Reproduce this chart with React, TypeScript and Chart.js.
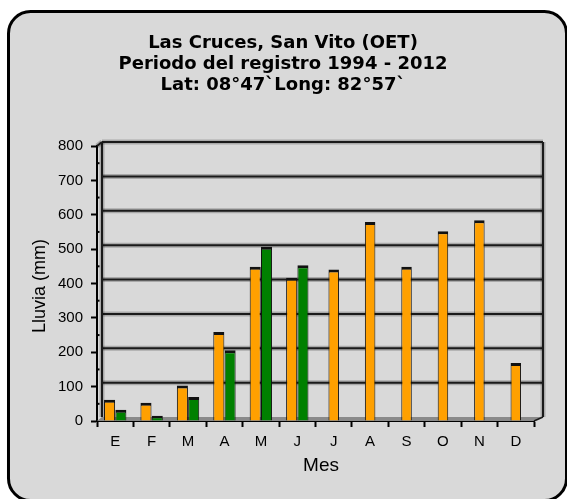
import React, { useEffect, useRef } from "react";
import { Chart, registerables } from "chart.js";

Chart.register(...registerables);

const months = ["E", "F", "M", "A", "M", "J", "J", "A", "S", "O", "N", "D"];
const rainA = [62, 53, 103, 259, 449, 417, 441, 579, 449, 552, 584, 169];
const rainB = [33, 15, 70, 206, 507, 453, null, null, null, null, null, null];
const yTicks = [0, 100, 200, 300, 400, 500, 600, 700, 800];
const titleLines = [
  "Las Cruces, San Vito (OET)",
  "Periodo del registro 1994 - 2012",
  "Lat: 08°47`Long: 82°57`",
];
const yTitle = "Lluvia (mm)";
const xTitle = "Mes";

const ORANGE = "#ffa000";
const GREEN = "#008000";
const SANS = "'Liberation Sans', Arial, sans-serif";

const framePlugin = {
  id: "frame3d",
  beforeDraw(chart: any) {
    const ctx = chart.ctx;
    ctx.save();
    ctx.fillStyle = "#ffffff";
    ctx.fillRect(0, 0, chart.width, chart.height);
    ctx.beginPath();
    ctx.roundRect(8.5, 11.5, 558, 489, 22);
    ctx.fillStyle = "#d9d9d9";
    ctx.fill();
    ctx.lineWidth = 3;
    ctx.strokeStyle = "#000";
    ctx.stroke();
    ctx.restore();
  },
  beforeDatasetsDraw(chart: any) {
    const ctx = chart.ctx;
    const a = chart.chartArea;
    const ys = chart.scales.y;
    const L = a.left, R = a.right, T = a.top, B = a.bottom;
    const bl = L + 5, br = R + 9, bt = T - 4, bb = B - 4;
    ctx.save();
    // floor
    ctx.beginPath();
    ctx.moveTo(L, B);
    ctx.lineTo(R, B);
    ctx.lineTo(br, bb);
    ctx.lineTo(bl, bb);
    ctx.closePath();
    ctx.fillStyle = "#8a8a8a";
    ctx.fill();
    const line = (x1: number, y1: number, x2: number, y2: number) => {
      ctx.strokeStyle = "rgba(0,0,0,0.22)";
      ctx.lineWidth = 5;
      ctx.beginPath();
      ctx.moveTo(x1, y1);
      ctx.lineTo(x2, y2);
      ctx.stroke();
      ctx.strokeStyle = "#1a1a1a";
      ctx.lineWidth = 2;
      ctx.beginPath();
      ctx.moveTo(x1, y1);
      ctx.lineTo(x2, y2);
      ctx.stroke();
    };
    yTicks.forEach((v) => {
      if (v === 0) return;
      const y = ys.getPixelForValue(v) - 4;
      line(bl, y, br, y);
    });
    line(bl, bt, bl, bb);
    line(br, bt, br, bb);
    line(L, T, bl, bt);
    ctx.strokeStyle = "#1a1a1a";
    ctx.lineWidth = 1.5;
    ctx.beginPath();
    ctx.moveTo(R, B);
    ctx.lineTo(br, bb);
    ctx.stroke();
    // minor dots
    ctx.fillStyle = "#000";
    for (let i = 0; i < yTicks.length - 1; i++) {
      const v = (yTicks[i] + yTicks[i + 1]) / 2;
      const y = ys.getPixelForValue(v);
      ctx.fillRect(L + 1, y - 1, 1.5, 2);
    }
    ctx.restore();
  },
  afterDraw(chart: any) {
    const ctx = chart.ctx;
    ctx.save();
    ctx.fillStyle = "#000";
    ctx.textAlign = "center";
    ctx.textBaseline = "middle";
    ctx.font = "bold 18px 'DejaVu Sans', Verdana, sans-serif";
    titleLines.forEach((t, i) => ctx.fillText(t, 283, 43 + i * 21));
    ctx.font = "19px " + SANS;
    ctx.fillText(xTitle, 321, 466);
    ctx.translate(40, 286);
    ctx.rotate(-Math.PI / 2);
    ctx.font = "18px " + SANS;
    ctx.fillText(yTitle, 0, 0);
    ctx.restore();
  },
};

export default function App() {
  const ref = useRef<HTMLCanvasElement>(null);
  useEffect(() => {
    const canvas = ref.current!;
    const barBorder = { top: 3, left: 1, right: 1, bottom: 0 };
    const chart = new Chart(canvas, {
      type: "bar",
      data: {
        labels: months,
        datasets: [
          {
            data: rainA.map((v, i) => (rainB[i] != null ? v : null)),
            backgroundColor: ORANGE,
            borderColor: "#111",
            borderWidth: barBorder,
            borderSkipped: false,
            categoryPercentage: 0.62,
            barPercentage: 0.98,
          },
          {
            data: rainB,
            backgroundColor: GREEN,
            borderColor: "#111",
            borderWidth: barBorder,
            borderSkipped: false,
            categoryPercentage: 0.62,
            barPercentage: 0.98,
          },
          {
            data: rainA.map((v, i) => (rainB[i] == null ? v : null)),
            backgroundColor: ORANGE,
            borderColor: "#111",
            borderWidth: barBorder,
            borderSkipped: false,
            grouped: false,
            categoryPercentage: 0.62,
            barPercentage: 0.465,
          },
        ] as any,
      },
      options: {
        animation: false,
        responsive: false,
        maintainAspectRatio: false,
        layout: { padding: { left: 57, right: 33, top: 146, bottom: 18 } },
        plugins: {
          legend: { display: false },
          title: { display: false },
          tooltip: { enabled: false },
        },
        scales: {
          x: {
            stacked: false,
            afterFit: (s: any) => {
              s.height = 60;
            },
            grid: {
              offset: true,
              drawOnChartArea: false,
              drawTicks: true,
              tickLength: 6,
              tickColor: "#000",
              tickWidth: 2,
            },
            border: { display: true, color: "#000", width: 2 },
            ticks: {
              padding: 6,
              color: "#000",
              font: { family: SANS, size: 15 },
            },
          },
          y: {
            min: 0,
            max: 800,
            afterFit: (s: any) => {
              s.width = 40;
            },
            afterBuildTicks: (s: any) => {
              s.ticks = yTicks.map((v) => ({ value: v }));
            },
            grid: {
              drawOnChartArea: false,
              drawTicks: true,
              tickLength: 6,
              tickColor: "#000",
              tickWidth: 2,
            },
            border: { display: true, color: "#000", width: 2 },
            ticks: {
              padding: 8,
              color: "#000",
              font: { family: SANS, size: 15 },
            },
          },
        },
      },
      plugins: [framePlugin],
    });
    return () => chart.destroy();
  }, []);
  return (
    <div style={{ position: "absolute", left: 0, top: 0, width: 567, height: 499 }}>
      <canvas ref={ref} width={567} height={499} style={{ display: "block" }} />
    </div>
  );
}
